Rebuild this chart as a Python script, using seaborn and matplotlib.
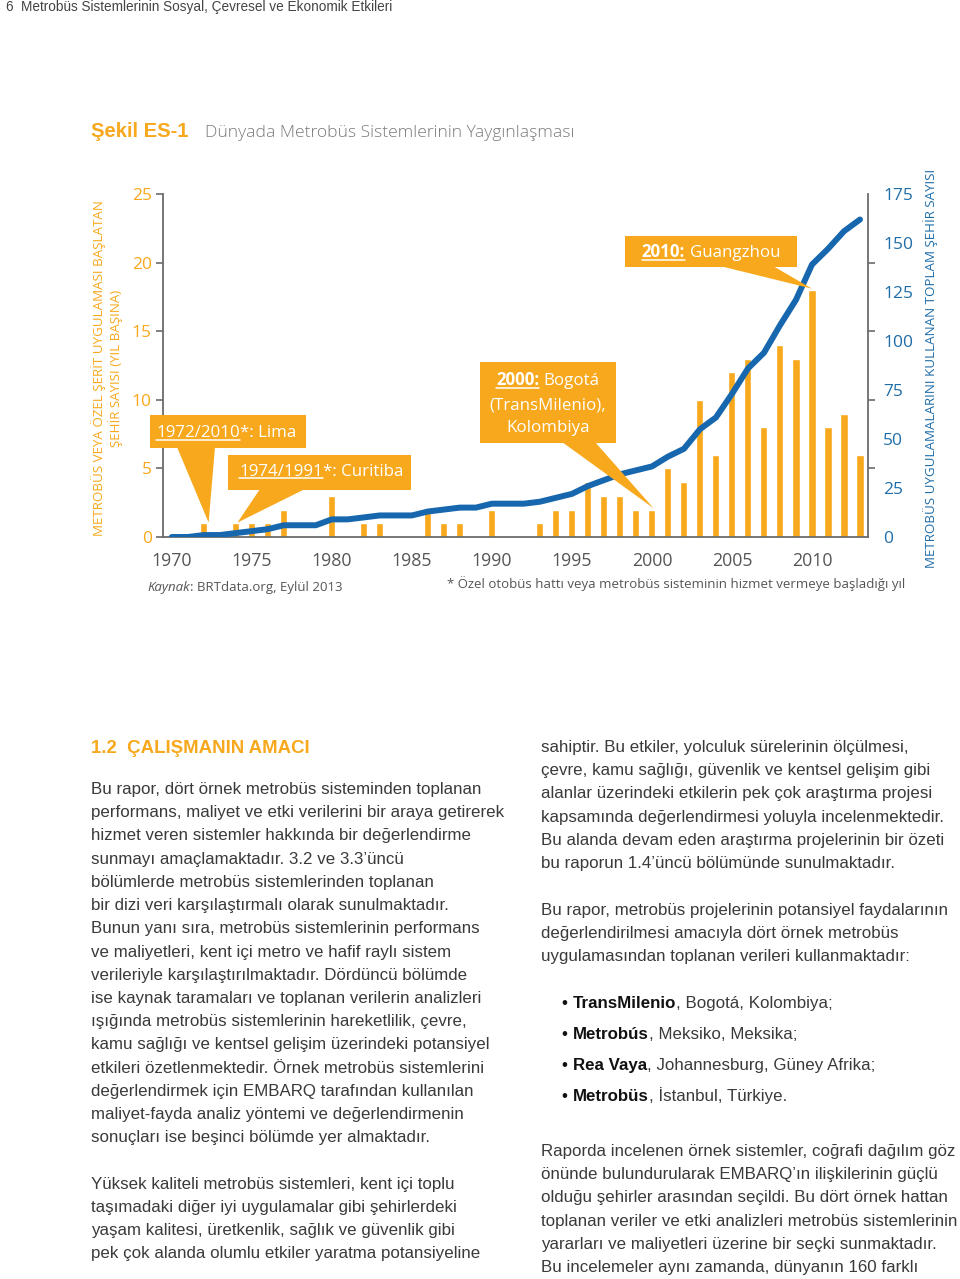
import matplotlib
matplotlib.use("Agg")
import matplotlib.pyplot as plt
import seaborn as sns
import pandas as pd
from matplotlib.patches import Polygon, Rectangle
from matplotlib.lines import Line2D
from matplotlib.ticker import MultipleLocator, FixedLocator

# ---------------- data ----------------
years = list(range(1970, 2014))
new_systems = [0, 0, 1, 0, 1, 1, 1, 2, 0, 0,
               3, 0, 1, 1, 0, 0, 2, 1, 1, 0,
               2, 0, 0, 1, 2, 2, 4, 3, 3, 2,
               2, 5, 4, 10, 6, 12, 13, 8, 14, 13,
               18, 8, 9, 6]
total_cities = [0, 0, 1, 1, 2, 3, 4, 6, 6, 6,
                9, 9, 10, 11, 11, 11, 13, 14, 15, 15,
                17, 17, 17, 18, 20, 22, 26, 29, 32, 34,
                36, 41, 45, 55, 61, 73, 86, 94, 108, 121,
                139, 147, 156, 162]
x_major_ticks = [1970, 1975, 1980, 1985, 1990, 1995, 2000, 2005, 2010]
left_ticks = [0, 5, 10, 15, 20, 25]
right_labels = [0, 25, 50, 75, 100, 125, 150, 175]
right_tick_marks = [0, 35, 70, 105, 140, 175]

left_label = "METROBÜS VEYA ÖZEL ŞERİT UYGULAMASI BAŞLATAN\nŞEHİR SAYISI (YIL BAŞINA)"
right_label = "METROBÜS UYGULAMALARINI KULLANAN TOPLAM ŞEHİR SAYISI"

left_col = [
    "Bu rapor, dört örnek metrobüs sisteminden toplanan",
    "performans, maliyet ve etki verilerini bir araya getirerek",
    "hizmet veren sistemler hakkında bir değerlendirme",
    "sunmayı amaçlamaktadır. 3.2 ve 3.3’üncü",
    "bölümlerde metrobüs sistemlerinden toplanan",
    "bir dizi veri karşılaştırmalı olarak sunulmaktadır.",
    "Bunun yanı sıra, metrobüs sistemlerinin performans",
    "ve maliyetleri, kent içi metro ve hafif raylı sistem",
    "verileriyle karşılaştırılmaktadır. Dördüncü bölümde",
    "ise kaynak taramaları ve toplanan verilerin analizleri",
    "ışığında metrobüs sistemlerinin hareketlilik, çevre,",
    "kamu sağlığı ve kentsel gelişim üzerindeki potansiyel",
    "etkileri özetlenmektedir. Örnek metrobüs sistemlerini",
    "değerlendirmek için EMBARQ tarafından kullanılan",
    "maliyet-fayda analiz yöntemi ve değerlendirmenin",
    "sonuçları ise beşinci bölümde yer almaktadır.",
    "",
    "Yüksek kaliteli metrobüs sistemleri, kent içi toplu",
    "taşımadaki diğer iyi uygulamalar gibi şehirlerdeki",
    "yaşam kalitesi, üretkenlik, sağlık ve güvenlik gibi",
    "pek çok alanda olumlu etkiler yaratma potansiyeline",
]
right_col_a = [
    "sahiptir. Bu etkiler, yolculuk sürelerinin ölçülmesi,",
    "çevre, kamu sağlığı, güvenlik ve kentsel gelişim gibi",
    "alanlar üzerindeki etkilerin pek çok araştırma projesi",
    "kapsamında değerlendirmesi yoluyla incelenmektedir.",
    "Bu alanda devam eden araştırma projelerinin bir özeti",
    "bu raporun 1.4’üncü bölümünde sunulmaktadır.",
    "",
    "Bu rapor, metrobüs projelerinin potansiyel faydalarının",
    "değerlendirilmesi amacıyla dört örnek metrobüs",
    "uygulamasından toplanan verileri kullanmaktadır:",
]
bullets = [
    ("TransMilenio", ", Bogotá, Kolombiya;"),
    ("Metrobús", ", Meksiko, Meksika;"),
    ("Rea Vaya", ", Johannesburg, Güney Afrika;"),
    ("Metrobüs", ", İstanbul, Türkiye."),
]
right_col_b = [
    "Raporda incelenen örnek sistemler, coğrafi dağılım göz",
    "önünde bulundurularak EMBARQ’ın ilişkilerinin güçlü",
    "olduğu şehirler arasından seçildi. Bu dört örnek hattan",
    "toplanan veriler ve etki analizleri metrobüs sistemlerinin",
    "yararları ve maliyetleri üzerine bir seçki sunmaktadır.",
    "Bu incelemeler aynı zamanda, dünyanın 160 farklı",
]

# ---------------- style ----------------
sns.set_style("white")
plt.rcParams['font.family'] = ['Open Sans', 'DejaVu Sans']
ORANGE = "#F8A81C"
BLUE = "#1767AF"
BLUE_TXT = "#1F6DA8"
GRAY = "#555555"
BODY = "#3a3a3a"
CHART_FONT = ['Open Sans', 'DejaVu Sans']
BODY_FONT = ['Liberation Sans', 'DejaVu Sans']

W, H = 960, 1279
fig = plt.figure(figsize=(W / 100, H / 100), dpi=100)
renderer = fig.canvas.get_renderer()

def fx(x):
    return x / W

def fy(y):
    return 1 - y / H

# ---------------- chart ----------------
L, R, T, B = 163, 868, 194, 537
ax = fig.add_axes([fx(L), fy(B), (R - L) / W, (B - T) / H])
df = pd.DataFrame({"year": years, "new": new_systems, "total": total_cities})

sns.barplot(data=df, x="year", y="new", native_scale=True, width=0.44,
            color=ORANGE, saturation=1, errorbar=None, ax=ax, zorder=2)
ax.set_xlim(1969.45, 2013.5)
ax.set_ylim(0, 25)

ax2 = ax.twinx()
sns.lineplot(data=df, x="year", y="total", color=BLUE, linewidth=4.3,
             ax=ax2, solid_capstyle='round', solid_joinstyle='round')
ax2.set_ylim(0, 175)
ax2.set_xlim(1969.45, 2013.5)

for a in (ax, ax2):
    a.set_xlabel("")
    a.set_ylabel("")
    a.grid(False)
    for s in a.spines.values():
        s.set_visible(False)
        s.set_color("#6b6b6b")
        s.set_linewidth(1.3)
ax.spines['left'].set_visible(True)
ax.spines['bottom'].set_visible(True)
ax2.spines['right'].set_visible(True)

ax.xaxis.set_major_locator(FixedLocator(x_major_ticks))
ax.xaxis.set_minor_locator(MultipleLocator(1))
ax.set_xticklabels([str(v) for v in x_major_ticks])
ax.tick_params(axis='x', which='both', direction='out', length=5, width=1.2,
               color="#6b6b6b", labelsize=12.8, labelcolor=GRAY, pad=6)
ax.set_yticks(left_ticks)
ax.tick_params(axis='y', which='major', direction='out', length=5, width=1.2,
               color="#6b6b6b", labelsize=12.5, labelcolor=ORANGE, pad=3)
ax2.set_yticks(right_labels)
ax2.yaxis.set_minor_locator(FixedLocator(right_tick_marks))
ax2.tick_params(axis='y', which='major', length=0, labelsize=12.5,
                labelcolor=BLUE_TXT, pad=11)
ax2.tick_params(axis='y', which='minor', direction='out', length=5, width=1.2,
                color="#6b6b6b")
for lab in ax.get_xticklabels() + ax.get_yticklabels() + ax2.get_yticklabels():
    lab.set_fontfamily(CHART_FONT)

# axis titles
fig.text(fx(107), fy(368), left_label, rotation=90, ha='center', va='center',
         color=ORANGE, fontsize=9.6, family=CHART_FONT, linespacing=1.25)
fig.text(fx(931), fy(368), right_label, rotation=90, ha='center', va='center',
         color=BLUE_TXT, fontsize=9.6, family=CHART_FONT)

# ---------------- text helpers ----------------
def measure(s, **kw):
    t = fig.text(0, 0, s, **kw)
    w = t.get_window_extent(renderer).width
    t.remove()
    return w

def segments(x, base, segs, ha='left', size=12, family=CHART_FONT,
             color='white', ul_color=None, zorder=10):
    """segs: list of (text, weight, style, underline, space_before, color)"""
    sp = measure("x x", fontsize=size, family=family) - measure("xx", fontsize=size, family=family)
    widths = []
    for s, wgt, sty, ul, spb, col in segs:
        widths.append(measure(s, fontsize=size, family=family, fontweight=wgt, fontstyle=sty))
    total = sum(widths) + sp * sum(1 for s in segs if s[4])
    cur = x - (total / 2 if ha == 'center' else 0)
    for (s, wgt, sty, ul, spb, col), w in zip(segs, widths):
        if spb:
            cur += sp
        fig.text(fx(cur), fy(base), s, ha='left', va='baseline', fontsize=size,
                 family=family, fontweight=wgt, fontstyle=sty,
                 color=col or color, zorder=zorder)
        if ul:
            fig.add_artist(Line2D([fx(cur), fx(cur + w)], [fy(base + 2.5)] * 2,
                                  color=ul_color or color, lw=1.1,
                                  transform=fig.transFigure, zorder=zorder))
        cur += w

def data_to_px(a, x, y):
    dx, dy = a.transData.transform((x, y))
    return dx, H - dy

def callout(box, base_xs, apex_data, a=ax):
    x0, y0, x1, y1 = box
    fig.add_artist(Rectangle((fx(x0), fy(y1)), (x1 - x0) / W, (y1 - y0) / H,
                             transform=fig.transFigure, facecolor=ORANGE,
                             edgecolor='none', zorder=8))
    ax_, ay_ = data_to_px(a, *apex_data)
    pts = [(fx(base_xs[0]), fy(y1 - 1)), (fx(base_xs[1]), fy(y1 - 1)), (fx(ax_), fy(ay_))]
    fig.add_artist(Polygon(pts, closed=True, transform=fig.transFigure,
                           facecolor=ORANGE, edgecolor='none', zorder=8))

# ---------------- callouts ----------------
AS = 12.2
callout((150, 415, 306, 448), (177, 215), (1972.3, 1.05))
segments(156, 437, [("1972/2010", 'normal', 'normal', True, False, None),
                    ("*: Lima", 'normal', 'normal', False, False, None)], size=AS)

callout((228, 455, 411, 490), (260, 305), (1974.1, 1.05))
segments(239, 476, [("1974/1991", 'normal', 'normal', True, False, None),
                    ("*: Curitiba", 'normal', 'normal', False, False, None)], size=AS)

callout((480, 362, 616, 443), (562, 595), (2000.1, 2.1))
segments(548, 385, [("2000:", 'bold', 'normal', True, False, None),
                    ("Bogotá", 'normal', 'normal', False, True, None)], ha='center', size=AS)
segments(548, 409, [("(TransMilenio),", 'normal', 'normal', False, False, None)], ha='center', size=AS)
segments(548, 432, [("Kolombiya", 'normal', 'normal', False, False, None)], ha='center', size=AS)

callout((625, 236, 797, 267), (720, 773), (2010.0, 18.1))
segments(711, 257, [("2010:", 'bold', 'normal', True, False, None),
                    ("Guangzhou", 'normal', 'normal', False, True, None)], ha='center', size=AS)

# ---------------- sources ----------------
segments(147, 591, [("Kaynak", 'normal', 'italic', False, False, GRAY),
                    (": BRTdata.org, Eylül 2013", 'normal', 'normal', False, False, GRAY)],
         size=9.5, color=GRAY)
fig.text(fx(447), fy(588), "* Özel otobüs hattı veya metrobüs sisteminin hizmet vermeye başladığı yıl",
         ha='left', va='baseline', fontsize=9.5, family=CHART_FONT, color=GRAY)

# ---------------- page header & title ----------------
fig.text(fx(5), fy(11), "6", ha='left', va='baseline', fontsize=9.8, family=BODY_FONT, color="#444444")
fig.text(fx(21), fy(11), "Metrobüs Sistemlerinin Sosyal, Çevresel ve Ekonomik Etkileri",
         ha='left', va='baseline', fontsize=9.8, family=BODY_FONT, color="#444444")
fig.text(fx(91), fy(137), "Şekil ES-1", ha='left', va='baseline', fontsize=14.6,
         fontweight='bold', family=BODY_FONT, color=ORANGE)
fig.text(fx(205), fy(137), "Dünyada Metrobüs Sistemlerinin Yaygınlaşması", ha='left',
         va='baseline', fontsize=12.6, fontweight='light', family=CHART_FONT, color="#7a7a7a")

# ---------------- body text ----------------
BS = 12.2
LS = 23.22
fig.text(fx(91), fy(753), "1.2  ÇALIŞMANIN AMACI", ha='left', va='baseline',
         fontsize=13.4, fontweight='bold', family=BODY_FONT, color=ORANGE)
for i, line in enumerate(left_col):
    if line:
        fig.text(fx(91), fy(794 + i * LS), line, ha='left', va='baseline',
                 fontsize=BS, family=BODY_FONT, color=BODY)
for i, line in enumerate(right_col_a):
    if line:
        fig.text(fx(541), fy(752 + i * LS), line, ha='left', va='baseline',
                 fontsize=BS, family=BODY_FONT, color=BODY)
for i, (bold, rest) in enumerate(bullets):
    b = 1008 + i * 31
    fig.text(fx(561), fy(b), "•", ha='left', va='baseline', fontsize=BS,
             family=BODY_FONT, color="#111111")
    segments(573, b, [(bold, 'bold', 'normal', False, False, "#111111"),
                      (rest, 'normal', 'normal', False, False, BODY)],
             size=BS, family=BODY_FONT, color=BODY)
for i, line in enumerate(right_col_b):
    fig.text(fx(541), fy(1156 + i * LS), line, ha='left', va='baseline',
             fontsize=BS, family=BODY_FONT, color=BODY)

fig.savefig("out.png", dpi=100)
